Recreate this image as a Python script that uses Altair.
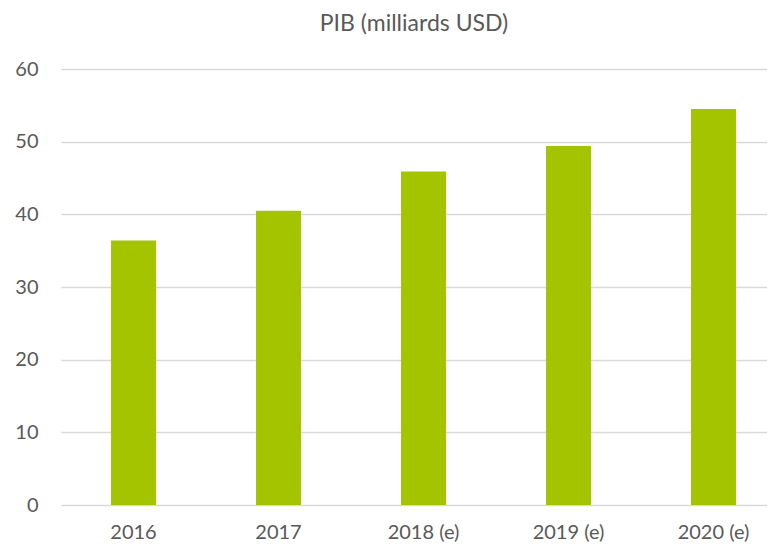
import altair as alt
import pandas as pd

years = ["2016", "2017", "2018 (e)", "2019 (e)", "2020 (e)"]
pib = [36.4, 40.5, 45.9, 49.4, 54.5]

df = pd.DataFrame({"year": years, "pib": pib})

FONT = "Lato"
GREY = "#595959"

chart = (
    alt.Chart(df)
    .mark_bar(color="#A5C400")
    .encode(
        x=alt.X(
            "year:N",
            sort=years,
            title=None,
            scale=alt.Scale(range=[0, 725], paddingInner=0.69, paddingOuter=0.345),
            axis=alt.Axis(
                labelAngle=0, ticks=False, tickSize=0, domain=False, grid=False,
                labelFont=FONT, labelFontSize=20, labelColor=GREY, labelPadding=17,
            ),
        ),
        y=alt.Y(
            "pib:Q",
            title=None,
            scale=alt.Scale(domain=[0, 60], nice=False),
            axis=alt.Axis(
                values=[0, 10, 20, 30, 40, 50, 60], ticks=False, tickSize=0, domain=False,
                grid=True, gridColor="#D9D9D9", gridWidth=1.3,
                labelFont=FONT, labelFontSize=20, labelColor=GREY, labelPadding=23,
            ),
        ),
    )
    .properties(
        width=706,
        height=436,
        autosize=alt.AutoSizeParams(type="none"),
        padding={"left": 53, "top": 61, "right": 0, "bottom": 41},
        title=alt.TitleParams(
            "PIB (milliards USD)", font=FONT, fontSize=23, fontWeight="normal",
            color=GREY, anchor="middle", frame="group", offset=23,
        ),
    )
    .configure_view(stroke=None)
)

chart.save("out.html", embed_options={"renderer": "svg", "actions": False})
